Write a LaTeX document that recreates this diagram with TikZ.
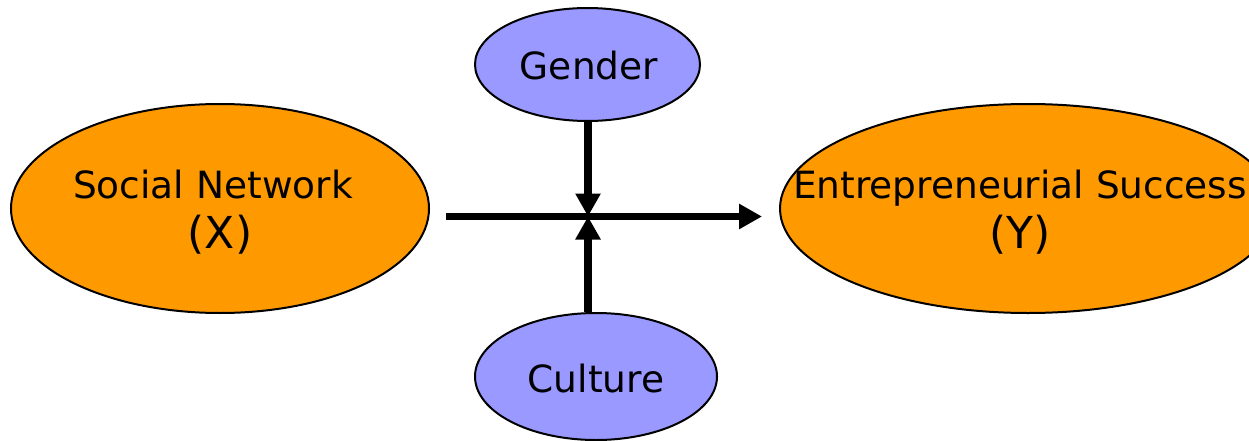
\documentclass[tikz,border=0pt]{standalone}
\usepackage{fontspec}
\setmainfont{DejaVu Sans}
\usetikzlibrary{shapes.geometric,arrows.meta}
\definecolor{varcol}{HTML}{FF9900}
\definecolor{modcol}{HTML}{9999FF}
\begin{document}
\begin{tikzpicture}[x=1pt,y=-1pt,
  oval/.style={ellipse, draw=black, line width=2pt, inner sep=0pt},
  bigoval/.style={oval, fill=varcol},
  smalloval/.style={oval, fill=modcol},
  label text/.style={anchor=base, inner sep=0pt, font=\fontsize{37.5}{45}\selectfont},
  symbol text/.style={anchor=base, inner sep=0pt, font=\fontsize{44}{50}\selectfont},
  flow/.style={line width=7.5pt, -{Triangle[length=23pt,width=24pt]}}
]
\useasboundingbox (0,0) rectangle (1249,441);
\clip (0,0) rectangle (1249,441);

% independent and dependent variables
\node[bigoval, minimum width=418pt, minimum height=209pt] (sn) at (220,208.5) {};
\node[label text] (snname) at (213,198) {Social Network};
\node[symbol text] (snsym) at (220,248) {(X)};

\node[bigoval, minimum width=496pt, minimum height=209pt] (es) at (1028,208.5) {};
\node[label text] (esname) at (1020,198) {Entrepreneurial Success};
\node[symbol text] (essym) at (1020,248) {(Y)};

% moderators
\node[smalloval, minimum width=225pt, minimum height=113pt] (gender) at (587.5,64.5) {};
\node[label text] (gendername) at (589,80) {Gender};
\node[smalloval, minimum width=242pt, minimum height=127pt] (culture) at (596,376.5) {};
\node[label text] (culturename) at (596,392) {Culture};

% meeting point of the moderating arrows
\coordinate (m) at (588,216.5);

% main relation
\draw[flow] ([xshift=16pt]sn.east |- m) -- ([xshift=-17pt]es.west |- m);
% moderating effects
\draw[flow] (m |- gender.south) -- (m);
\draw[flow] (m |- culture.north) -- (m);
\end{tikzpicture}
\end{document}
